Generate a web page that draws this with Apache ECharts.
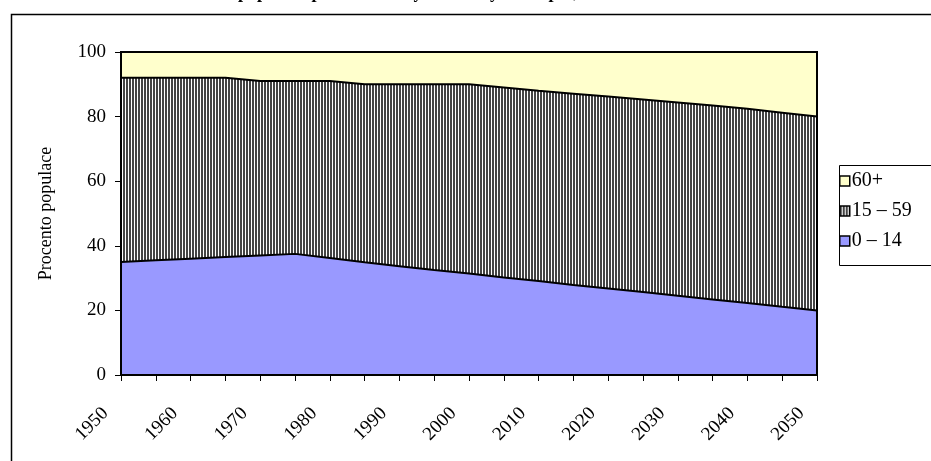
<!DOCTYPE html>
<html>
<head>
<meta charset="utf-8">
<script src="https://cdn.jsdelivr.net/npm/echarts@6/dist/echarts.min.js"></script>
<style>
  html, body { margin: 0; padding: 0; background: #fff; }
  #main { width: 931px; height: 461px; }
</style>
</head>
<body>
<div id="main"></div>
<script>
// roky 1950 - 2050 po 5 letech
var years = ['1950', '1955', '1960', '1965', '1970', '1975', '1980', '1985', '1990', '1995', '2000',
             '2005', '2010', '2015', '2020', '2025', '2030', '2035', '2040', '2045', '2050'];
// podily vekovych skupin v %
var age0_14  = [35.0, 35.5, 36.0, 36.5, 37.0, 37.5, 36.2, 34.9, 33.7, 32.5, 31.4, 30.2, 29.1, 27.9, 26.8, 25.7, 24.5, 23.4, 22.3, 21.1, 20.0];
var age15_59 = [57.0, 56.5, 56.0, 55.5, 54.0, 53.5, 54.8, 55.1, 56.3, 57.5, 58.6, 58.8, 58.9, 59.2, 59.4, 59.6, 59.9, 60.0, 60.1, 60.1, 60.0];
var age60    = [8.0, 8.0, 8.0, 8.0, 9.0, 9.0, 9.0, 10.0, 10.0, 10.0, 10.0, 11.0, 12.0, 12.9, 13.8, 14.7, 15.6, 16.6, 17.6, 18.8, 20.0];
var yTicks = [0, 20, 40, 60, 80, 100];
var names = ['0 – 14', '15 – 59', '60+'];

// svisle prouzky pro 15-59
var cv = document.createElement('canvas');
cv.width = 3; cv.height = 4;
var cx = cv.getContext('2d');
cx.fillStyle = '#ffffff';
cx.fillRect(0, 0, 3, 4);
cx.fillStyle = '#444444';
cx.fillRect(0, 0, 2, 4);
var stripes = { image: cv, repeat: 'repeat' };

var serif = '"Liberation Serif", "Times New Roman", serif';
var fills = ['#9999ff', stripes, '#ffffcc'];
var values = [age0_14, age15_59, age60];

var series = names.map(function (n, i) {
  return {
    name: n,
    type: 'line',
    stack: 'all',
    z: 5 - i,
    symbol: 'none',
    silent: true,
    data: values[i],
    itemStyle: { color: fills[i] },
    lineStyle: { color: '#000', width: 2 },
    areaStyle: { color: fills[i], opacity: 1 }
  };
});

var myChart = echarts.init(document.getElementById('main'));
var option = {
  animation: false,
  backgroundColor: '#fff',
  // nadpis je nahore oriznuty, jako v predloze
  title: {
    text: 'Rozložení světové populace podle tří velkých věkových skupin, 1950–2050',
    left: 98,
    top: -16,
    padding: 0,
    textStyle: { fontFamily: serif, fontWeight: 'bold', fontSize: 18, color: '#000' }
  },
  graphic: [
    { type: 'rect', left: 9, top: 12, shape: { width: 1000, height: 500 },
      style: { fill: 'none', stroke: '#000', lineWidth: 1.5 }, silent: true },
    { type: 'rect', left: 837, top: 163, shape: { width: 200, height: 100 },
      style: { fill: 'none', stroke: '#000', lineWidth: 1 }, silent: true }
  ],
  legend: {
    orient: 'vertical',
    left: 839,
    top: 171,
    padding: 0,
    itemGap: 10,
    itemWidth: 10,
    itemHeight: 10,
    icon: 'rect',
    selectedMode: false,
    textStyle: { fontFamily: serif, fontSize: 20, color: '#000', padding: [0, 0, 0, -3] },
    data: [
      { name: '60+', itemStyle: { color: '#ffffcc', borderColor: '#000', borderWidth: 1.5 } },
      { name: '15 – 59', itemStyle: { color: stripes, borderColor: '#000', borderWidth: 1.5 } },
      { name: '0 – 14', itemStyle: { color: '#9999ff', borderColor: '#000', borderWidth: 1.5 } }
    ]
  },
  grid: {
    left: 121, right: 114, top: 52, bottom: 86,
    show: true, borderColor: '#000', borderWidth: 2, z: 10
  },
  xAxis: {
    type: 'category',
    data: years,
    boundaryGap: false,
    z: 10,
    axisLine: { lineStyle: { color: '#000', width: 2 } },
    axisTick: { show: true, interval: 0, length: 6, lineStyle: { color: '#000', width: 1 } },
    axisLabel: {
      interval: 1, rotate: 45, margin: 20, padding: [0, 22, 0, 0],
      fontFamily: serif, fontSize: 19, color: '#000'
    },
    splitLine: { show: false }
  },
  yAxis: {
    type: 'value',
    min: yTicks[0],
    max: yTicks[yTicks.length - 1],
    interval: 20,
    z: 10,
    name: 'Procento populace',
    nameLocation: 'middle',
    nameGap: 66,
    nameTextStyle: { fontFamily: serif, fontSize: 18, color: '#000' },
    axisLine: { show: true, lineStyle: { color: '#000', width: 2 } },
    axisTick: { show: true, length: 6, lineStyle: { color: '#000', width: 1 } },
    axisLabel: { margin: 15, fontFamily: serif, fontSize: 19, color: '#000' },
    splitLine: { show: false }
  },
  series: series
};
myChart.setOption(option);
</script>
</body>
</html>
